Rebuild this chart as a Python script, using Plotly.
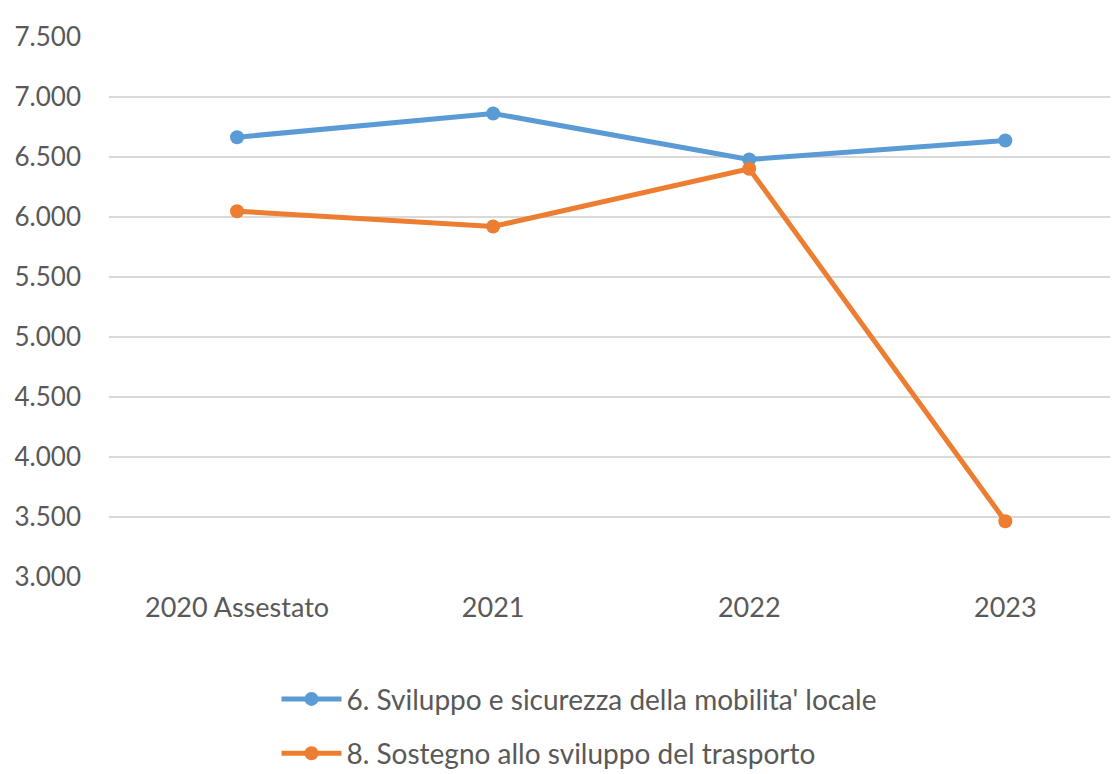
import plotly.graph_objects as go

categories = ["2020 Assestato", "2021", "2022", "2023"]
series_names = ["6. Sviluppo e sicurezza della mobilita' locale",
                "8. Sostegno allo sviluppo del trasporto"]
mobilita_locale = [6665, 6863, 6479, 6638]
trasporto = [6048, 5921, 6402, 3465]
y_ticks = [3000, 3500, 4000, 4500, 5000, 5500, 6000, 6500, 7000, 7500]

colors = ["#5B9BD5", "#ED7D31"]
FONT = "Lato"
GREY = "#595959"

fig = go.Figure()
for i, (name, vals) in enumerate(zip(series_names, [mobilita_locale, trasporto])):
    fig.add_trace(go.Scatter(
        x=categories, y=vals, name=name, mode="lines+markers",
        line=dict(color=colors[i], width=5),
        marker=dict(color=colors[i], size=14),
        legendgroup=f"g{i}",
    ))

fig.update_layout(
    width=1118, height=774,
    margin=dict(l=101, r=8, t=29, b=205, autoexpand=False),
    paper_bgcolor="white", plot_bgcolor="white",
    separators=",.",
    font=dict(family=FONT, size=26, color=GREY),
    showlegend=True,
    legend=dict(
        orientation="v", x=0.166, xanchor="left", y=-0.18, yanchor="top",
        font=dict(family=FONT, size=28, color=GREY),
        tracegroupgap=15, itemwidth=60, bgcolor="rgba(0,0,0,0)",
    ),
)
fig.update_xaxes(
    type="category", range=[-0.5, 3.44], showgrid=False, zeroline=False,
    showline=False, ticks="", ticklabelstandoff=12,
    tickfont=dict(family=FONT, size=27, color=GREY),
)
fig.update_yaxes(
    range=[3000, 7500], tickvals=y_ticks, tickformat=",d",
    showgrid=True, gridcolor="#D9D9D9", gridwidth=1.5, zeroline=False,
    showline=False, ticks="", ticklabelstandoff=27,
    tickfont=dict(family=FONT, size=26, color=GREY),
)

fig.write_html("out.html")
